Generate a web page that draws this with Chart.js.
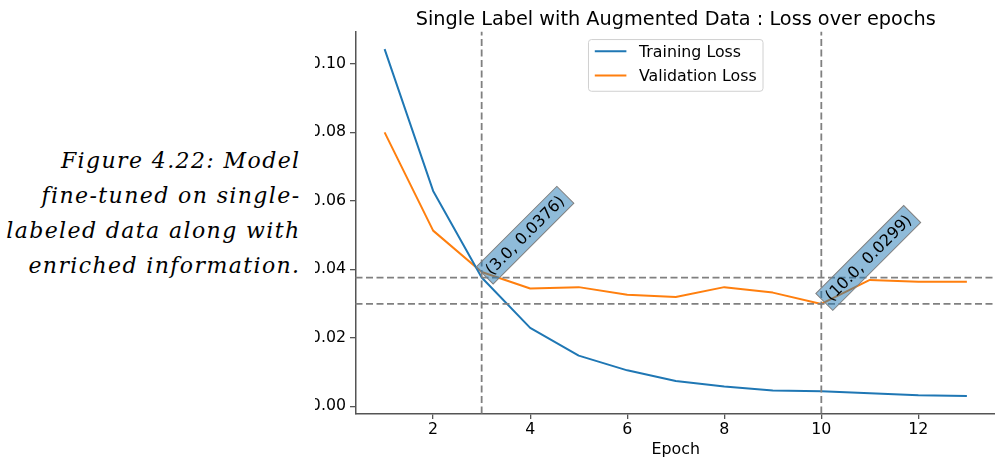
<!DOCTYPE html>
<html>
<head>
<meta charset="utf-8">
<script src="https://cdn.jsdelivr.net/npm/chart.js@4.4.1/dist/chart.umd.min.js"></script>
<style>
  html, body { margin: 0; padding: 0; background: #fff; overflow: hidden; }
  body { width: 995px; height: 460px; position: relative; }
  #caption { position: absolute; left: 0; top: 143px; width: 300.5px; text-align: right;
    font: italic 22px/35px "DejaVu Serif", serif; letter-spacing: 1.4px; color: #000; }
  #clip { position: absolute; left: 315px; top: 0; width: 680px; height: 460px; overflow: hidden; }
  #box { position: absolute; left: -19px; top: 0; width: 700px; height: 460px; }
</style>
</head>
<body>
<div id="caption">Figure 4.22: Model<br>fine-tuned on single-<br>labeled data along with<br>enriched information.</div>
<div id="clip"><div id="box"><canvas id="lossChart"></canvas></div></div>
<script>
const epochs = [1, 2, 3, 4, 5, 6, 7, 8, 9, 10, 11, 12, 13];
const trainingLoss = [0.1043, 0.0629, 0.0376, 0.0229, 0.0148, 0.0105, 0.0074, 0.0058, 0.0046, 0.0044, 0.0038, 0.0032, 0.0030];
const validationLoss = [0.0800, 0.0513, 0.0392, 0.0344, 0.0348, 0.0326, 0.0319, 0.0348, 0.0332, 0.0299, 0.0369, 0.0364, 0.0364];
const markerX = [3, 10];
const markerY = [0.0376, 0.0299];
const xTicks = [2, 4, 6, 8, 10, 12];
const yTicks = [0, 0.02, 0.04, 0.06, 0.08, 0.10];

const family = '"DejaVu Sans", sans-serif';
const fs = 15.8;

// dashed reference lines + rotated value boxes
const refLines = {
  id: 'refLines',
  afterDatasetsDraw(chart) {
    const { ctx, chartArea: a, scales: { x, y } } = chart;
    ctx.save();
    ctx.strokeStyle = 'gray';
    ctx.lineWidth = 1.8;
    ctx.setLineDash([7, 3.5]);
    markerX.forEach((v, i) => {
      const px = x.getPixelForValue(v), py = y.getPixelForValue(markerY[i]);
      ctx.beginPath(); ctx.moveTo(px, a.bottom); ctx.lineTo(px, a.top); ctx.stroke();
      ctx.beginPath(); ctx.moveTo(a.left, py); ctx.lineTo(a.right, py); ctx.stroke();
    });
    ctx.restore();

    ctx.save();
    ctx.font = '16px ' + family;
    markerX.forEach((v, i) => {
      const text = '(' + v.toFixed(1) + ', ' + markerY[i].toFixed(4) + ')';
      const px = x.getPixelForValue(v) + 3, py = y.getPixelForValue(markerY[i]) - 2;
      const w = ctx.measureText(text).width + 10, h = 24;
      ctx.save();
      ctx.translate(px, py);
      ctx.rotate(-Math.PI / 4);
      ctx.fillStyle = 'rgba(31,119,180,0.5)';
      ctx.fillRect(0, -h / 2, w, h);
      ctx.strokeStyle = 'gray';
      ctx.lineWidth = 1;
      ctx.strokeRect(0, -h / 2, w, h);
      ctx.fillStyle = '#000';
      ctx.textBaseline = 'middle';
      ctx.fillText(text, 5, 1);
      ctx.restore();
    });
    ctx.restore();
  }
};

// matplotlib-like legend box, upper center
const boxLegend = {
  id: 'boxLegend',
  afterDraw(chart) {
    const { ctx, chartArea: a } = chart;
    const sets = chart.data.datasets;
    ctx.save();
    ctx.font = fs + 'px ' + family;
    const tw = Math.max(...sets.map(d => ctx.measureText(d.label).width));
    const w = 3.6 * fs + tw, h = 51.7;
    const left = (a.left + a.right) / 2 - w / 2, top = a.top + 0.5 * fs;
    ctx.beginPath();
    ctx.roundRect(left, top, w, h, 3);
    ctx.fillStyle = 'rgba(255,255,255,0.8)';
    ctx.fill();
    ctx.strokeStyle = '#d0d0d0';
    ctx.lineWidth = 1;
    ctx.stroke();
    sets.forEach((d, i) => {
      const cy = top + 11.7 + i * 24.3;
      ctx.strokeStyle = d.borderColor;
      ctx.lineWidth = 2;
      ctx.beginPath(); ctx.moveTo(left + 0.4 * fs, cy); ctx.lineTo(left + 2.4 * fs, cy); ctx.stroke();
      ctx.fillStyle = '#000';
      ctx.textBaseline = 'middle';
      ctx.fillText(d.label, left + 3.2 * fs, cy + 1.5);
    });
    ctx.restore();
  }
};

const tickFont = { family: family, size: fs };

new Chart(document.getElementById('lossChart'), {
  type: 'line',
  data: {
    datasets: [
      {
        label: 'Training Loss',
        data: epochs.map((e, i) => ({ x: e, y: trainingLoss[i] })),
        borderColor: '#1f77b4',
        borderWidth: 2,
        pointRadius: 0,
        borderJoinStyle: 'round'
      },
      {
        label: 'Validation Loss',
        data: epochs.map((e, i) => ({ x: e, y: validationLoss[i] })),
        borderColor: '#ff7f0e',
        borderWidth: 2,
        pointRadius: 0,
        borderJoinStyle: 'round'
      }
    ]
  },
  options: {
    responsive: true,
    maintainAspectRatio: false,
    animation: false,
    layout: { padding: 0 },
    plugins: {
      legend: { display: false },
      tooltip: { enabled: false },
      title: {
        display: true,
        fullSize: false,
        text: 'Single Label with Augmented Data : Loss over epochs',
        color: '#000',
        font: { family: family, size: 19.3, weight: 'normal', lineHeight: 1.2 },
        padding: { top: 8, bottom: 0.5 }
      }
    },
    scales: {
      x: {
        type: 'linear',
        min: 0.4,
        max: 13.6,
        afterBuildTicks: s => { s.ticks = xTicks.map(v => ({ value: v })); },
        afterFit: s => { s.height = 46.5; },
        ticks: { color: '#000', font: tickFont, padding: 1.2, maxRotation: 0, callback: v => String(v) },
        grid: { drawOnChartArea: false, tickLength: 5.5, color: '#555', lineWidth: 1.3 },
        border: { color: '#555', width: 1.5 },
        title: { display: true, text: 'Epoch', color: '#000', font: tickFont, padding: { top: 0, bottom: 1 } }
      },
      y: {
        min: -0.0021,
        max: 0.1094,
        afterBuildTicks: s => { s.ticks = yTicks.map(v => ({ value: v })); },
        afterFit: s => { s.width = 59.5; },
        ticks: { color: '#000', font: tickFont, padding: 4, callback: v => v.toFixed(2) },
        grid: { drawOnChartArea: false, tickLength: 5.5, color: '#555', lineWidth: 1.3 },
        border: { color: '#555', width: 1.5 }
      }
    }
  },
  plugins: [refLines, boxLegend]
});
</script>
</body>
</html>
